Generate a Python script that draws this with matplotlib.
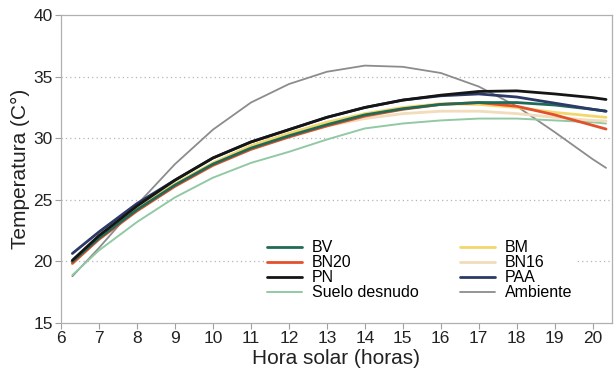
import matplotlib
matplotlib.use("Agg")
import matplotlib.pyplot as plt

plt.rcParams['font.family'] = ['Liberation Sans', 'DejaVu Sans']

hours = [6.3, 7, 8, 9, 10, 11, 12, 13, 14, 15, 16, 17, 18, 19, 20, 20.35]

bv = [20.0, 21.9, 24.2, 26.2, 27.9, 29.2, 30.2, 31.1, 31.9, 32.4, 32.75, 32.9, 32.9, 32.7, 32.35, 32.2]
bn20 = [19.85, 21.8, 24.1, 26.1, 27.8, 29.1, 30.1, 31.0, 31.8, 32.35, 32.75, 32.9, 32.6, 31.9, 31.05, 30.75]
pn = [20.1, 22.1, 24.5, 26.6, 28.4, 29.7, 30.7, 31.7, 32.5, 33.1, 33.5, 33.8, 33.85, 33.6, 33.3, 33.15]
suelo = [18.9, 20.9, 23.2, 25.2, 26.8, 28.0, 28.9, 29.9, 30.8, 31.2, 31.45, 31.6, 31.6, 31.45, 31.3, 31.2]
bm = [20.0, 22.0, 24.3, 26.3, 28.0, 29.4, 30.4, 31.3, 32.0, 32.5, 32.8, 32.75, 32.5, 32.1, 31.8, 31.7]
bn16 = [19.8, 21.9, 24.2, 26.2, 27.9, 29.2, 30.2, 31.0, 31.6, 32.0, 32.2, 32.2, 32.0, 31.7, 31.45, 31.4]
paa = [20.65, 22.4, 24.7, 26.6, 28.4, 29.7, 30.7, 31.7, 32.5, 33.1, 33.45, 33.6, 33.35, 32.85, 32.35, 32.2]
ambiente = [18.8, 21.1, 24.6, 27.9, 30.7, 32.9, 34.4, 35.4, 35.9, 35.8, 35.3, 34.2, 32.6, 30.5, 28.3, 27.6]

# legend order is column-wise: BV, BN20, PN, Suelo | BM, BN16, PAA, Ambiente
series = [
    ("BV", bv, "#1f6b58", 2.0),
    ("BN20", bn20, "#e2502c", 2.0),
    ("PN", pn, "#151515", 2.0),
    ("Suelo desnudo", suelo, "#92c9a4", 1.4),
    ("BM", bm, "#f2d76c", 2.0),
    ("BN16", bn16, "#f1dcbc", 2.0),
    ("PAA", paa, "#2b3a66", 2.0),
    ("Ambiente", ambiente, "#8c8c8c", 1.3),
]

fig = plt.figure(figsize=(6.14, 3.81), dpi=100)
ax = fig.add_axes([0.0993, 0.152, 0.897, 0.8084])

# draw order: ambiente and suelo behind, dark lines on top
draw_order = ["Ambiente", "Suelo desnudo", "BN16", "BM", "BN20", "BV", "PAA", "PN"]
lines = {}
for name in draw_order:
    for lab, vals, col, lw in series:
        if lab == name:
            lines[lab], = ax.plot(hours, vals, color=col, lw=lw, label=lab,
                                  solid_capstyle='round', solid_joinstyle='round')

ax.set_xlim(6, 20.5)
ax.set_ylim(15, 40)
ax.set_xticks(range(6, 21))
ax.set_yticks([15, 20, 25, 30, 35, 40])
for y in [20, 25, 30, 35]:
    ax.axhline(y, color="#b5b5b5", lw=0.9, ls=(0, (1, 2.5)), zorder=0)

for s in ax.spines.values():
    s.set_color("#b0b0b0")
    s.set_linewidth(0.9)
ax.tick_params(axis='both', direction='out', length=4, color="#a0a0a0",
               labelsize=12.5, labelcolor="#222222", pad=2)

ax.set_xlabel("Hora solar (horas)", fontsize=15, color="#222222", labelpad=2)
ax.set_ylabel("Temperatura (C°)", fontsize=15, color="#222222", labelpad=2)

handles = [lines[lab] for lab, *_ in series]
leg = ax.legend(handles=handles, labels=[h.get_label() for h in handles],
                ncol=2, loc='center', bbox_to_anchor=(0.651, 0.172),
                fontsize=11.5, frameon=True, facecolor='white', edgecolor='none',
                framealpha=1, labelspacing=0.0, handlelength=2.2,
                handletextpad=0.6, columnspacing=2.6, borderpad=0.2)

fig.savefig("out.png", dpi=100)
